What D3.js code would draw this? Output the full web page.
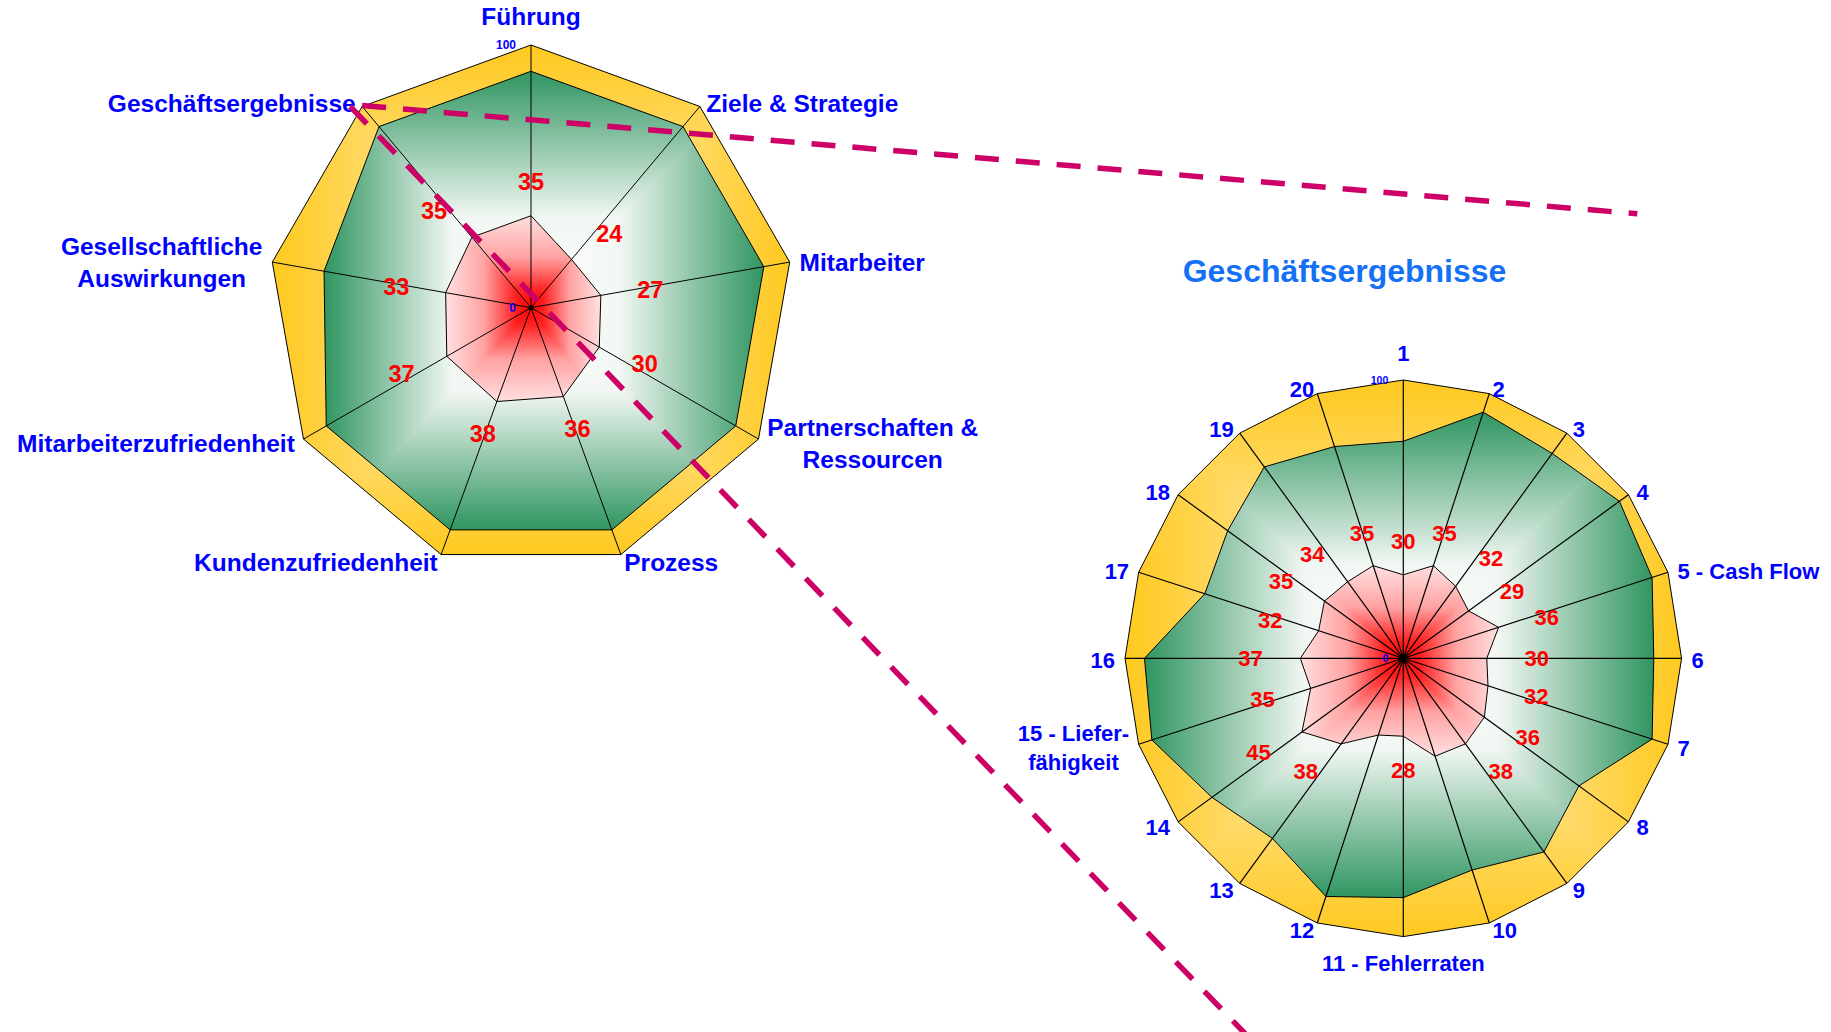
<!DOCTYPE html>
<html>
<head>
<meta charset="utf-8">
<script src="https://cdn.jsdelivr.net/npm/d3@7"></script>
<style>
  body { margin: 0; background: #fff; }
  svg { display: block; }
  text { font-family: "Liberation Sans", Arial, sans-serif; font-weight: bold; }
</style>
</head>
<body>
<svg id="chart" width="1831" height="1032"></svg>
<script>
// ---- Overview radar: nine criteria ----
const mainCategories = ["Führung", "Ziele & Strategie", "Mitarbeiter", "Partnerschaften &\nRessourcen",
  "Prozess", "Kundenzufriedenheit", "Mitarbeiterzufriedenheit", "Gesellschaftliche\nAuswirkungen",
  "Geschäftsergebnisse"];
const mainActual = [35, 24, 27, 30, 36, 38, 37, 33, 35];
const mainTarget = [90, 90, 90, 90, 90, 90, 90, 80, 90];
const mainMax    = [100, 100, 100, 100, 100, 100, 100, 100, 100];

// ---- Detail radar: business results indicators ----
const detailTitle = "Geschäftsergebnisse";
const detailCategories = ["1", "2", "3", "4", "5 - Cash Flow", "6", "7", "8", "9", "10",
  "11 - Fehlerraten", "12", "13", "14", "15 - Liefer-\nfähigkeit", "16", "17", "18", "19", "20"];
const detailActual = [30, 35, 32, 29, 36, 30, 32, 36, 38, 37, 28, 29, 38, 45, 35, 37, 32, 35, 34, 35];
const detailTarget = [78, 93, 91, 96, 94, 90, 94, 78, 86, 80, 86, 90, 80, 85, 95, 93, 75, 78, 85, 80];
const detailMax    = [100, 100, 100, 100, 100, 100, 100, 100, 100, 100,
                      100, 100, 100, 100, 100, 100, 100, 100, 100, 100];
const detailHiddenLabels = ["10", "12"];

const axisTicks = [0, 100];

// ---- colour ramps (centre -> edge of each band's bounding box) ----
const rampMax    = [[0, "#fff3d6"], [1, "#ffc91f"]];
const rampTarget = [[0, "#ffffff"], [0.38, "#f2f7f3"], [1, "#2f9560"]];
const rampActual = [[0, "#ff0000"], [0.18, "#ff2020"], [0.55, "#ffa2a2"], [1, "#ffe0e0"]];

const svg = d3.select("#chart");
const defs = svg.append("defs");
let uid = 0;

// sideways shift of value labels as a function of |sin(angle)|
const labelSideShift = d3.scaleLinear().domain([0, 0.3, 0.6, 1]).range([0, 0.2, 0.7, 0.96]);

// Fill a polygon with a rectangular ("box") gradient: four triangles, each with
// a linear ramp running from the centre towards one side of the bounding box.
function boxGradientFill(g, pts, ramp) {
  const x0 = d3.min(pts, p => p[0]), x1 = d3.max(pts, p => p[0]);
  const y0 = d3.min(pts, p => p[1]), y1 = d3.max(pts, p => p[1]);
  const clipId = "clip" + (++uid);
  defs.append("clipPath").attr("id", clipId)
    .append("polygon").attr("points", pts.map(p => p.join(",")).join(" "));
  const inner = g.append("g").attr("clip-path", `url(#${clipId})`);
  const quads = [
    { tri: [[0, 0], [x0, y0], [x1, y0]], end: [0, y0] },
    { tri: [[0, 0], [x1, y0], [x1, y1]], end: [x1, 0] },
    { tri: [[0, 0], [x1, y1], [x0, y1]], end: [0, y1] },
    { tri: [[0, 0], [x0, y1], [x0, y0]], end: [x0, 0] }
  ];
  quads.forEach(q => {
    const gid = "grad" + (++uid);
    const lg = defs.append("linearGradient").attr("id", gid)
      .attr("gradientUnits", "userSpaceOnUse")
      .attr("x1", 0).attr("y1", 0).attr("x2", q.end[0]).attr("y2", q.end[1]);
    ramp.forEach(s => lg.append("stop").attr("offset", s[0]).attr("stop-color", s[1]));
    inner.append("polygon")
      .attr("points", q.tri.map(p => p.join(",")).join(" "))
      .attr("fill", `url(#${gid})`)
      .attr("stroke", `url(#${gid})`).attr("stroke-width", 1);
  });
  g.append("polygon")
    .attr("points", pts.map(p => p.join(",")).join(" "))
    .attr("fill", "none").attr("stroke", "#000").attr("stroke-width", 1);
}

function placeLabel(g, text, x, y, anchor, size, color, lineH) {
  const lines = text.split("\n");
  const t = g.append("text").attr("fill", color).attr("font-size", size)
    .attr("text-anchor", "middle");
  const first = -(lines.length - 1) / 2 * lineH;
  lines.forEach((ln, i) => {
    t.append("tspan").attr("x", 0).attr("y", first + i * lineH).attr("dy", "0.35em").text(ln);
  });
  const w = d3.max(t.selectAll("tspan").nodes(), n => n.getComputedTextLength());
  const cx = anchor === "start" ? x + w / 2 : anchor === "end" ? x - w / 2 : x;
  t.attr("transform", `translate(${cx},${y})`);
}

function drawRadar(opt) {
  const n = opt.categories.length;
  const step = 2 * Math.PI / n;
  const r = d3.scaleLinear().domain([0, 100]).range([0, opt.R]);
  const pt = (v, i) => [r(v) * Math.sin(i * step), -r(v) * Math.cos(i * step)];
  const g = svg.append("g").attr("transform", `translate(${opt.cx},${opt.cy})`);

  // stacked bands, outermost first
  [[opt.max, rampMax], [opt.target, rampTarget], [opt.actual, rampActual]].forEach(([vals, ramp]) => {
    boxGradientFill(g, vals.map(pt), ramp);
  });

  // spokes
  g.append("g").selectAll("line").data(opt.categories).join("line")
    .attr("x1", 0).attr("y1", 0)
    .attr("x2", (d, i) => pt(100, i)[0]).attr("y2", (d, i) => pt(100, i)[1])
    .attr("stroke", "#000").attr("stroke-width", opt.spokeW);
  g.append("circle").attr("r", opt.dotR).attr("fill", "#000");

  // value labels of the actual band, set just outside each point
  g.append("g").selectAll("text")
    .data(opt.actual.map((v, i) => ({ v, i })).filter(d => !opt.hidden.includes(opt.categories[d.i])))
    .join("text")
    .attr("x", d => {
      const s = Math.sin(d.i * step);
      return pt(d.v, d.i)[0] + Math.sign(s) * 52 * labelSideShift(Math.abs(s));
    })
    .attr("y", d => pt(d.v, d.i)[1] - 34 * Math.cos(d.i * step))
    .attr("dy", "0.35em")
    .attr("text-anchor", "middle").attr("fill", "#ff0000").attr("font-size", opt.valueSize)
    .text(d => d.v);

  // radial axis ticks
  g.append("g").selectAll("text").data(axisTicks).join("text")
    .attr("x", -15).attr("y", d => -r(d)).attr("dy", "0.35em")
    .attr("text-anchor", "end").attr("fill", "#0000ff").attr("font-size", opt.tickSize)
    .text(d => d);

  // category labels outside the outer ring
  opt.categories.forEach((c, i) => {
    const a = i * step;
    const [vx, vy] = pt(100, i);
    const s = Math.sin(a), co = Math.cos(a);
    let x = vx + 10 * s, y = vy + 1.5 - 6.5 * co;
    let anchor = "middle";
    if (Math.abs(s) < 0.05) y = vy + (co > 0 ? -1 : 1) * (10 + opt.catSize * 0.74);
    else anchor = s > 0 ? "start" : "end";
    placeLabel(g, c, x, y, anchor, opt.catSize, "#0000ff", opt.catSize * 1.3);
  });
  return { g, pt, r };
}

const left = drawRadar({
  cx: 531, cy: 307.7, R: 262.7, categories: mainCategories,
  actual: mainActual, target: mainTarget, max: mainMax, hidden: [],
  catSize: 24.5, valueSize: 23.5, tickSize: 12, spokeW: 1, dotR: 2.5
});

const right = drawRadar({
  cx: 1403.3, cy: 658.3, R: 278.3, categories: detailCategories,
  actual: detailActual, target: detailTarget, max: detailMax, hidden: detailHiddenLabels,
  catSize: 22, valueSize: 22, tickSize: 10.5, spokeW: 1.2, dotR: 4.5
});

svg.append("text").attr("x", 1344.5).attr("y", 282)
  .attr("text-anchor", "middle").attr("font-size", 32).attr("fill", "#1470f5")
  .text(detailTitle);

// zoom connectors from the "Geschäftsergebnisse" corner of the overview
const gi = mainCategories.indexOf("Geschäftsergebnisse");
const [gx, gy] = left.pt(100, gi);
const sx = 531 + gx, sy = 307.7 + gy;
const connectors = [
  [[sx, sy - 1], [1403.3 + 234, 658.3 - 444.5]],
  [[sx - 12, sy], [sx - 12 + 934 / 1.036, sy + 934]]
];
svg.append("g").selectAll("line").data(connectors).join("line")
  .attr("x1", d => d[0][0]).attr("y1", d => d[0][1])
  .attr("x2", d => d[1][0]).attr("y2", d => d[1][1])
  .attr("stroke", "#cc0066").attr("stroke-width", 5.5)
  .attr("stroke-dasharray", "24 17");
</script>
</body>
</html>
